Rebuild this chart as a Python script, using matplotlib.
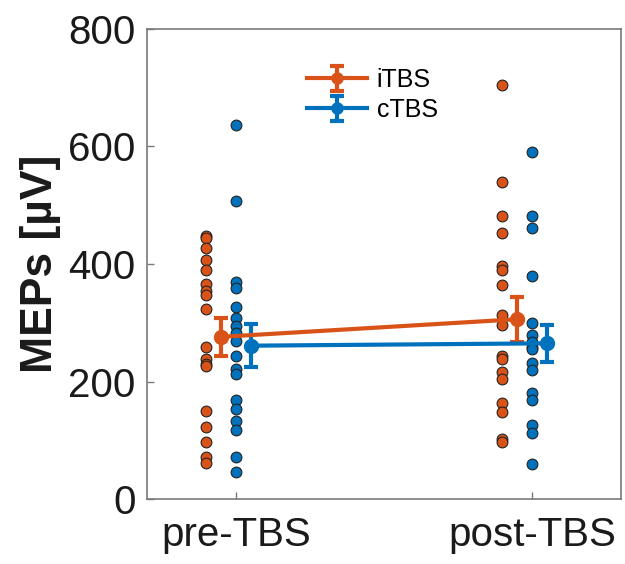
import matplotlib
matplotlib.use("Agg")
import matplotlib.pyplot as plt
import numpy as np

plt.rcParams['font.family'] = ['Liberation Sans', 'DejaVu Sans']

categories = ["pre-TBS", "post-TBS"]
series_names = ["iTBS", "cTBS"]

itbs_pre = [448, 445, 428, 406, 389, 366, 354, 348, 324, 258, 238, 229, 226, 150, 123, 97, 72, 62]
ctbs_pre = [637, 508, 369, 359, 327, 308, 294, 283, 269, 243, 222, 212, 168, 154, 133, 118, 71, 46]
itbs_post = [705, 540, 482, 453, 397, 390, 365, 313, 296, 243, 238, 216, 205, 163, 148, 102, 97]
ctbs_post = [590, 481, 462, 380, 299, 279, 268, 259, 255, 232, 220, 180, 168, 126, 113, 59]

itbs_mean = [276, 306]
itbs_err = [32, 38]
ctbs_mean = [261, 265]
ctbs_err = [37, 31]

orange = (0.85, 0.325, 0.098)
blue = (0.0, 0.447, 0.741)
axcol = '#7a7a7a'
txtcol = '#1a1a1a'

fig = plt.figure(figsize=(6.25, 5.64), dpi=100)
ax = fig.add_axes([0.235, 0.1152, 0.7586, 0.8334])

xpos = np.array([1.0, 2.0])

# scatter points
for i, vals in enumerate([itbs_pre, itbs_post]):
    ax.scatter(np.full(len(vals), xpos[i] - 0.1), vals, s=60, color=orange,
               edgecolor='#222222', linewidth=0.8, zorder=3)
for i, vals in enumerate([ctbs_pre, ctbs_post]):
    ax.scatter(np.full(len(vals), xpos[i]), vals, s=60, color=blue,
               edgecolor='#222222', linewidth=0.8, zorder=3)

# means with error bars
ax.errorbar(xpos - 0.05, itbs_mean, yerr=itbs_err, color=orange, lw=3,
            marker='o', ms=10, capsize=5, capthick=3, elinewidth=3,
            label=series_names[0], zorder=4)
ax.errorbar(xpos + 0.05, ctbs_mean, yerr=ctbs_err, color=blue, lw=3,
            marker='o', ms=10, capsize=5, capthick=3, elinewidth=3,
            label=series_names[1], zorder=4)

ax.set_xlim(0.7, 2.3)
ax.set_ylim(0, 800)
ax.set_xticks(xpos)
ax.set_xticklabels(categories)
ax.set_yticks([0, 200, 400, 600, 800])
ax.tick_params(direction='in', length=5, width=1, colors=axcol,
               labelcolor=txtcol, labelsize=29, pad=8)
ax.tick_params(axis='x', pad=12)
for s in ax.spines.values():
    s.set_color(axcol)
    s.set_linewidth(1.2)
ax.tick_params(top=False, right=False)

ax.set_ylabel("MEPs [µV]", fontsize=32, fontweight='bold', color=txtcol, labelpad=5)

leg = ax.legend(loc='upper center', bbox_to_anchor=(0.475, 0.965), frameon=False,
                fontsize=18, handlelength=2.4, handletextpad=0.4, labelspacing=0.25,
                markerscale=0.8)

fig.savefig("out.png", dpi=100)
